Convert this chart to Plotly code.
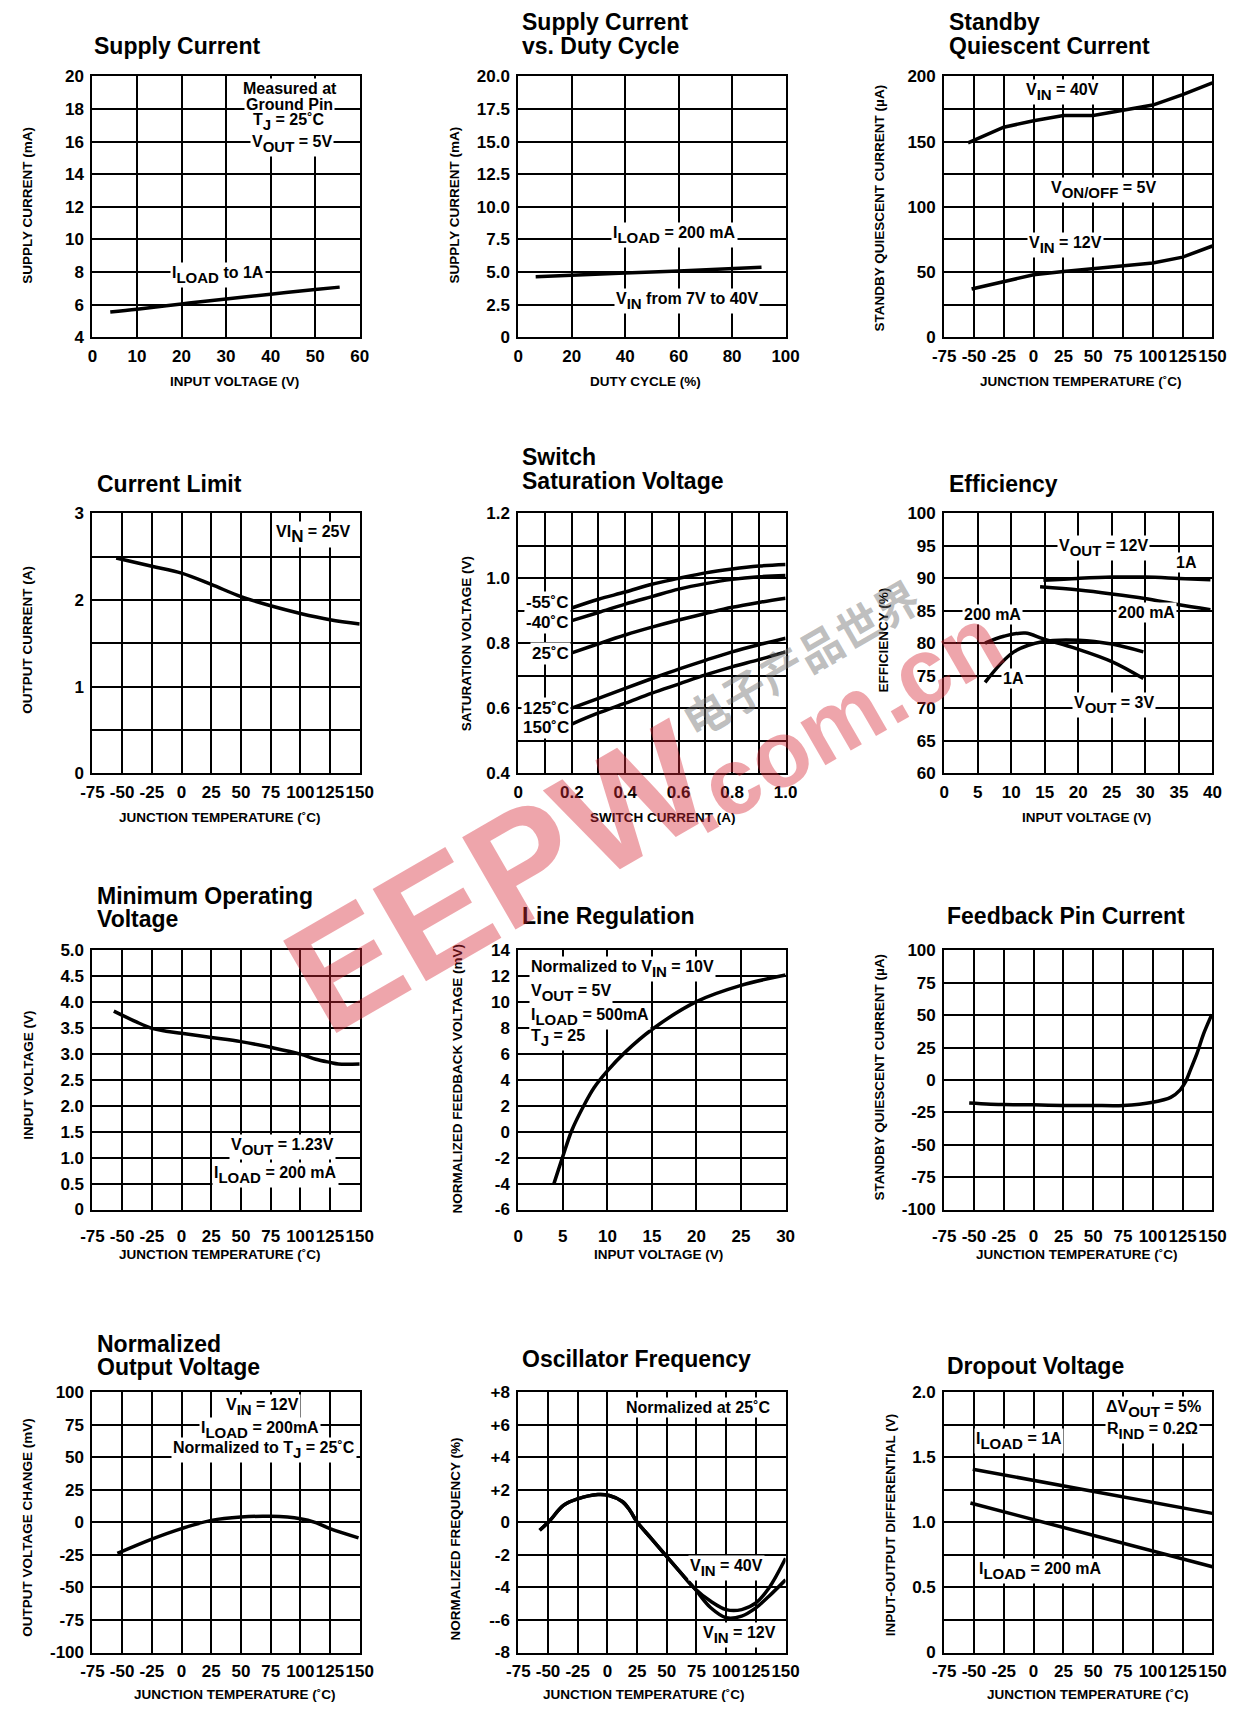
import plotly.graph_objects as go

FONT = "Liberation Sans, Arial, Helvetica, sans-serif"
OFF = 8                      # browser body margin
FW, FH = 1254 - 2 * OFF, 1715 - 2 * OFF

# ---------------- data ----------------
# 1 Supply Current
sc_vin = [4, 10, 20, 30, 40, 50, 55.5]
sc_ma = [5.56, 5.73, 6.05, 6.35, 6.65, 6.93, 7.08]
# 2 Supply Current vs Duty Cycle
dc_pct = [6.5, 20, 40, 60, 80, 91]
dc_ma = [4.65, 4.78, 4.93, 5.08, 5.24, 5.38]
# 3 Standby Quiescent Current
sq_t40 = [-55, -25, 0, 25, 50, 75, 100, 125, 150]
sq_40v = [149, 161, 166, 170, 170, 174, 178, 186, 195]
sq_t12 = [-52, -25, 0, 25, 50, 75, 100, 125, 150]
sq_12v = [37, 43, 48, 50.5, 52.5, 54.5, 57, 61.5, 70]
# 4 Current Limit
cl_t = [-55, -25, 0, 25, 50, 75, 100, 125, 150]
cl_a = [2.486, 2.39, 2.31, 2.18, 2.04, 1.934, 1.846, 1.774, 1.724]
# 5 Switch Saturation Voltage
ss_i = [0.2, 0.3, 0.4, 0.5, 0.6, 0.7, 0.8, 0.9, 1.0]
ss_m55 = [0.909, 0.936, 0.958, 0.982, 1.000, 1.017, 1.029, 1.038, 1.043]
ss_m40 = [0.870, 0.895, 0.921, 0.944, 0.967, 0.984, 0.997, 1.005, 1.009]
ss_25 = [0.771, 0.799, 0.826, 0.850, 0.872, 0.892, 0.911, 0.926, 0.939]
ss_125 = [0.601, 0.631, 0.662, 0.692, 0.721, 0.748, 0.774, 0.796, 0.816]
ss_150 = [0.552, 0.586, 0.616, 0.647, 0.675, 0.703, 0.728, 0.750, 0.774]
ss_labels = ["-55˚C", "-40˚C", "25˚C", "125˚C", "150˚C"]
# 6 Efficiency
ef_v12 = [14.8, 20, 25, 30, 35, 39.7]
ef_12_1a = [89.7, 90.0, 90.2, 90.2, 90.0, 89.8]
ef_v12b = [14.3, 20.1, 25, 29.9, 34.8, 39.7]
ef_12_200 = [88.7, 88.2, 87.6, 86.9, 86.0, 85.2]
ef_v3a = [6.1, 8.9, 12.1, 14.8, 19.7, 25, 29.7]
ef_3_200 = [80.05, 81.1, 81.6, 80.7, 79.2, 77.2, 74.6]
ef_v3b = [6.1, 10.4, 14.8, 20.1, 25, 29.7]
ef_3_1a = [74.0, 78.7, 80.3, 80.5, 79.9, 78.7]
# 7 Minimum Operating Voltage
mo_t = [-57, -38, -24, -13, 0, 25, 50, 75, 100, 113, 125, 132, 150]
mo_v = [3.83, 3.62, 3.49, 3.44, 3.40, 3.32, 3.24, 3.13, 3.00, 2.90, 2.84, 2.81, 2.81]
# 8 Line Regulation
lr_vin = [4.0, 5.0, 6.0, 7.3, 8.5, 10, 12, 15, 20, 25, 30]
lr_mv = [-4.0, -1.9, 0.1, 1.95, 3.4, 4.7, 6.15, 7.9, 10.05, 11.3, 12.1]
# 9 Feedback Pin Current
fb_t = [-54, -25, 0, 25, 50, 75, 100, 115, 123, 127.5, 131.5, 137, 142.5, 149.5]
fb_ua = [-17.7, -19.0, -19.2, -19.7, -19.7, -19.7, -17.2, -13.4, -7.6, -1.3, 7.6, 20.3, 35.4, 50.6]
# 10 Normalized Output Voltage
no_t = [-54, -25, 0, 25, 50, 75, 100, 113, 125, 149]
no_mv = [-23.8, -12.8, -4.7, 1.6, 4.2, 4.7, 2.9, -0.1, -4.7, -11.8]
# 11 Oscillator Frequency
of_t = [-57, -49, -37, -25, -8, 1.5, 12.5, 19, 25, 37, 50, 62, 73, 87, 100, 113, 125, 136, 150]
of_40v = [-0.48, 0.07, 1.05, 1.45, 1.72, 1.66, 1.29, 0.74, 0.03, -0.99, -2.1, -3.12, -4.03,
          -4.85, -5.36, -5.36, -4.95, -4.03, -2.2]
of_12v = [-0.48, 0.07, 1.05, 1.45, 1.72, 1.66, 1.29, 0.74, 0.03, -0.99, -2.1, -3.12, -4.03,
          -5.25, -5.86, -5.76, -5.25, -4.54, -3.53]
# 12 Dropout Voltage
do_t1 = [-51, 150]
do_1a = [1.41, 1.07]
do_t2 = [-53, 150]
do_200 = [1.15, 0.66]

# tick sets
T_VALS = [-75, -50, -25, 0, 25, 50, 75, 100, 125, 150]
T_TEXT = [str(v) for v in T_VALS]

# ---------------- layout helpers (positions in reference page pixels) ----------------
cols = [(82, 355), (517, 790), (952, 1226)]
rows = [(68, 332), (510, 773), (952, 1214), (1399, 1662)]


def fx(px):
    return (px - OFF) / FW


def fy(py):
    return 1 - (py - OFF) / FH


fig = go.Figure()
layout = dict(width=FW, height=FH, margin=dict(l=0, r=0, t=0, b=0),
              paper_bgcolor="white", plot_bgcolor="white", showlegend=False,
              font=dict(family=FONT, color="black"))
bg_annotations = []     # white boxes that break the grid behind label text
annotations = []


def tickfont(size=17):
    return dict(family=FONT, size=size, color="black", weight="bold")


def setup(n, xr, xv, xt, yr, yv, yt, xstand=2, xminor=None, yminor=None):
    r, c = divmod(n - 1, 3)
    sx = "" if n == 1 else str(n)
    common = dict(showgrid=True, gridcolor="black", gridwidth=2, showline=True,
                  linecolor="black", linewidth=2, mirror=True, ticks="",
                  zeroline=False, fixedrange=True, tickmode="array", tickangle=0,
                  tickfont=tickfont())
    xa = dict(domain=[fx(cols[c][0]), fx(cols[c][1])], range=xr,
              tickvals=xv, ticktext=xt, anchor="y" + sx, ticklabelstandoff=xstand, **common)
    ya = dict(domain=[fy(rows[r][1]), fy(rows[r][0])], range=yr,
              tickvals=yv, ticktext=yt, anchor="x" + sx, ticklabelstandoff=3, **common)
    if xminor:
        xa["minor"] = dict(tick0=xminor[0], dtick=xminor[1], showgrid=True,
                           gridcolor="black", gridwidth=2, ticks="")
    if yminor:
        ya["minor"] = dict(tick0=yminor[0], dtick=yminor[1], showgrid=True,
                           gridcolor="black", gridwidth=2, ticks="")
    layout["xaxis" + sx] = xa
    layout["yaxis" + sx] = ya


def line(n, x, y, shape="spline", width=3.5, smoothing=1.0):
    sx = "" if n == 1 else str(n)
    fig.add_trace(go.Scatter(x=x, y=y, mode="lines", xaxis="x" + sx, yaxis="y" + sx,
                             line=dict(color="black", width=width, shape=shape,
                                       smoothing=smoothing if shape == "spline" else None),
                             hoverinfo="skip"))


def sub(s, size=15):
    # lowered, slightly smaller run of text (subscript look)
    return '<span style="font-size:%dpx;baseline-shift:-5px">%s</span>' % (size, s)


def note(n, text, x, y, size=16, xanchor="center"):
    sx = "" if n == 1 else str(n)
    base = dict(text=text, x=x, y=y, xref="x" + sx, yref="y" + sx,
                showarrow=False, xanchor=xanchor, yanchor="middle", borderpad=1)
    bg_annotations.append(dict(base, bgcolor="white",
                               font=dict(family=FONT, size=size, color="white", weight="bold")))
    annotations.append(dict(base,
                            font=dict(family=FONT, size=size, color="black", weight="bold")))


def ptext(text, px, py, size=23, xanchor="left", angle=0):
    annotations.append(dict(text=text, x=fx(px), y=fy(py), xref="paper", yref="paper",
                            showarrow=False, xanchor=xanchor, yanchor="middle",
                            textangle=angle, borderpad=0,
                            font=dict(family=FONT, size=size, color="black", weight="bold")))


# ---------------- panel 1 ----------------
setup(1, [0, 60], [0, 10, 20, 30, 40, 50, 60], ["0", "10", "20", "30", "40", "50", "60"],
      [4, 20], list(range(4, 21, 2)), [str(v) for v in range(4, 21, 2)])
line(1, sc_vin, sc_ma)
note(1, "Measured at", 44.3, 19.25)
note(1, "Ground Pin", 44.3, 18.3)
note(1, "T" + sub("J") + " = 25˚C", 44.0, 17.2)
note(1, "V" + sub("OUT") + " = 5V", 44.8, 15.85)
note(1, "I" + sub("LOAD") + " to 1A", 28.2, 7.85)

# ---------------- panel 2 ----------------
dc_y = [0, 2.5, 5, 7.5, 10, 12.5, 15, 17.5, 20]
setup(2, [0, 100], [0, 20, 40, 60, 80, 100], ["0", "20", "40", "60", "80", "100"],
      [0, 20], dc_y, ["0", "2.5", "5.0", "7.5", "10.0", "12.5", "15.0", "17.5", "20.0"])
line(2, dc_pct, dc_ma, shape="linear")
note(2, "I" + sub("LOAD") + " = 200 mA", 58.3, 7.85)
note(2, "V" + sub("IN") + " from 7V to 40V", 63.2, 2.75)

# ---------------- panel 3 ----------------
setup(3, [-75, 150], T_VALS, T_TEXT, [0, 200], [0, 50, 100, 150, 200],
      ["0", "50", "100", "150", "200"], yminor=(0, 25))
line(3, sq_t40, sq_40v, shape="linear")
line(3, sq_t12, sq_12v, shape="linear")
note(3, "V" + sub("IN") + " = 40V", 24, 188)
note(3, "V" + sub("ON/OFF") + " = 5V", 58.7, 113)
note(3, "V" + sub("IN") + " = 12V", 27, 71)

# ---------------- panel 4 ----------------
setup(4, [-75, 150], T_VALS, T_TEXT, [0, 3], [0, 1, 2, 3], ["0", "1", "2", "3"],
      yminor=(0, 0.5))
line(4, cl_t, cl_a)
note(4, "VI" + sub("N", 17) + " = 25V", 110.8, 2.76)

# ---------------- panel 5 ----------------
setup(5, [0, 1.0], [0, 0.2, 0.4, 0.6, 0.8, 1.0], ["0", "0.2", "0.4", "0.6", "0.8", "1.0"],
      [0.4, 1.2], [0.4, 0.6, 0.8, 1.0, 1.2], ["0.4", "0.6", "0.8", "1.0", "1.2"],
      xminor=(0, 0.1), yminor=(0.4, 0.1))
for ys in [ss_m55, ss_m40, ss_25, ss_125, ss_150]:
    line(5, ss_i, ys)
for t, yv in zip(ss_labels, [0.926, 0.865, 0.769, 0.601, 0.542]):
    note(5, t, 0.197, yv, size=17, xanchor="right")

# ---------------- panel 6 ----------------
ef_x = list(range(0, 41, 5))
ef_y = list(range(60, 101, 5))
setup(6, [0, 40], ef_x, [str(v) for v in ef_x], [60, 100], ef_y, [str(v) for v in ef_y])
line(6, ef_v12, ef_12_1a)
line(6, ef_v12b, ef_12_200)
line(6, ef_v3a, ef_3_200)
line(6, ef_v3b, ef_3_1a)
note(6, "V" + sub("OUT") + " = 12V", 23.8, 94.6)
note(6, "1A", 36.2, 92.4)
note(6, "200 mA", 30.1, 84.8)
note(6, "200 mA", 7.2, 84.4)
note(6, "1A", 10.3, 74.6)
note(6, "V" + sub("OUT") + " = 3V", 25.3, 70.6)

# ---------------- panel 7 ----------------
mo_y = [round(0.5 * k, 1) for k in range(11)]
setup(7, [-75, 150], T_VALS, T_TEXT, [0, 5], mo_y,
      ["0", "0.5", "1.0", "1.5", "2.0", "2.5", "3.0", "3.5", "4.0", "4.5", "5.0"], xstand=10)
line(7, mo_t, mo_v)
note(7, "V" + sub("OUT") + " = 1.23V", 84.6, 1.2)
note(7, "I" + sub("LOAD") + " = 200 mA", 79, 0.66)

# ---------------- panel 8 ----------------
lr_x = list(range(0, 31, 5))
lr_y = list(range(-6, 15, 2))
setup(8, [0, 30], lr_x, [str(v) for v in lr_x], [-6, 14], lr_y, [str(v) for v in lr_y], xstand=10)
line(8, lr_vin, lr_mv)
note(8, "Normalized to V" + sub("IN") + " = 10V", 1.2, 12.6, xanchor="left")
note(8, "V" + sub("OUT") + " = 5V", 1.2, 10.7, xanchor="left")
note(8, "I" + sub("LOAD") + " = 500mA", 1.2, 8.9, xanchor="left")
note(8, "T" + sub("J") + " = 25", 1.2, 7.25, xanchor="left")

# ---------------- panel 9 ----------------
fb_y = list(range(-100, 101, 25))
setup(9, [-75, 150], T_VALS, T_TEXT, [-100, 100], fb_y, [str(v) for v in fb_y], xstand=10)
line(9, fb_t, fb_ua, smoothing=0.8)

# ---------------- panel 10 ----------------
no_y = list(range(-100, 101, 25))
setup(10, [-75, 150], T_VALS, T_TEXT, [-100, 100], no_y, [str(v) for v in no_y])
line(10, no_t, no_mv)
note(10, "V" + sub("IN") + " = 12V", 68.5, 88.5)
note(10, "I" + sub("LOAD") + " = 200mA", 66.3, 71.5)
note(10, "Normalized to T" + sub("J") + " = 25˚C", 69.4, 56)

# ---------------- panel 11 ----------------
of_y = list(range(-8, 9, 2))
setup(11, [-75, 150], T_VALS, T_TEXT, [-8, 8], of_y,
      ["-8", "--6", "-4", "-2", "0", "+2", "+4", "+6", "+8"])
line(11, of_t, of_40v)
line(11, of_t, of_12v)
note(11, "Normalized at 25˚C", 76.3, 7.1)
note(11, "V" + sub("IN") + " = 40V", 100, -2.8)
note(11, "V" + sub("IN") + " = 12V", 111, -6.9)

# ---------------- panel 12 ----------------
setup(12, [-75, 150], T_VALS, T_TEXT, [0, 2], [0, 0.5, 1.0, 1.5, 2.0],
      ["0", "0.5", "1.0", "1.5", "2.0"], yminor=(0, 0.25))
line(12, do_t1, do_1a, shape="linear")
line(12, do_t2, do_200, shape="linear")
note(12, "ΔV" + sub("OUT") + " = 5%", 100.7, 1.87)
note(12, "R" + sub("IND") + " = 0.2Ω", 100, 1.7)
note(12, "I" + sub("LOAD") + " = 1A", -12.3, 1.63)
note(12, "I" + sub("LOAD") + " = 200 mA", 5.5, 0.63)

# ---------------- titles ----------------
for t, px, py in [("Supply Current", 83, 37), ("Supply Current", 520, 13),
                  ("vs. Duty Cycle", 520, 37), ("Standby", 956, 13),
                  ("Quiescent Current", 956, 37), ("Current Limit", 86, 480),
                  ("Switch", 520, 453), ("Saturation Voltage", 520, 477),
                  ("Efficiency", 956, 480), ("Minimum Operating", 86, 897),
                  ("Voltage", 86, 920), ("Line Regulation", 520, 917),
                  ("Feedback Pin Current", 954, 917), ("Normalized", 86, 1350),
                  ("Output Voltage", 86, 1373), ("Oscillator Frequency", 520, 1365),
                  ("Dropout Voltage", 954, 1372)]:
    ptext(t, px, py)

# ---------------- axis titles ----------------
XT = 13.5
for t, px, py in [("INPUT VOLTAGE (V)", 227, 377), ("DUTY CYCLE (%)", 647, 377),
                  ("JUNCTION TEMPERATURE (˚C)", 1092, 377),
                  ("JUNCTION TEMPERATURE (˚C)", 212, 818), ("SWITCH CURRENT (A)", 664, 818),
                  ("INPUT VOLTAGE (V)", 1097, 818),
                  ("JUNCTION TEMPERATURE (˚C)", 212, 1260), ("INPUT VOLTAGE (V)", 660, 1260),
                  ("JUNCTION TEMPERATURE (˚C)", 1088, 1260),
                  ("JUNCTION TEMPERATURE (˚C)", 228, 1704), ("JUNCTION TEMPERATURE (˚C)", 645, 1704),
                  ("JUNCTION TEMPERATURE (˚C)", 1099, 1704)]:
    ptext(t, px, py, size=XT, xanchor="center")

for t, px, py in [("SUPPLY CURRENT (mA)", 16, 198), ("SUPPLY CURRENT (mA)", 452, 198),
                  ("STANDBY QUIESCENT CURRENT (µA)", 886, 201),
                  ("OUTPUT CURRENT (A)", 16, 638), ("SATURATION VOLTAGE (V)", 465, 642),
                  ("EFFICIENCY (%)", 890, 638),
                  ("INPUT VOLTAGE (V)", 16, 1078), ("NORMALIZED FEEDBACK VOLTAGE (mV)", 455, 1082),
                  ("STANDBY QUIESCENT CURRENT (µA)", 885, 1080),
                  ("OUTPUT VOLTAGE CHANGE (mV)", 16, 1535), ("NORMALIZED FREQUENCY (%)", 453, 1547),
                  ("INPUT-OUTPUT DIFFERENTIAL (V)", 898, 1533)]:
    ptext(t, px, py, size=XT, xanchor="center", angle=-90)

# ---------------- watermark ----------------
annotations.append(dict(text="EEPW", x=fx(497), y=fy(878), xref="paper", yref="paper",
                        showarrow=False, textangle=-30, xanchor="center", yanchor="middle",
                        font=dict(family=FONT, size=155, color="rgba(214,40,55,0.42)",
                                  weight="bold")))
annotations.append(dict(text=".com.cn", x=fx(845), y=fy(718), xref="paper", yref="paper",
                        showarrow=False, textangle=-30, xanchor="center", yanchor="middle",
                        font=dict(family=FONT, size=94, color="rgba(214,40,55,0.42)",
                                  weight="bold")))
annotations.append(dict(text="电子产品世界", x=fx(805), y=fy(655), xref="paper", yref="paper",
                        showarrow=False, textangle=-30, xanchor="center", yanchor="middle",
                        font=dict(family="Noto Sans CJK SC", size=44,
                                  color="rgba(110,110,110,0.45)", weight="bold")))

layout["annotations"] = bg_annotations + annotations
fig.update_layout(**layout)
fig.write_html("out.html", config={"displayModeBar": False, "staticPlot": True})
